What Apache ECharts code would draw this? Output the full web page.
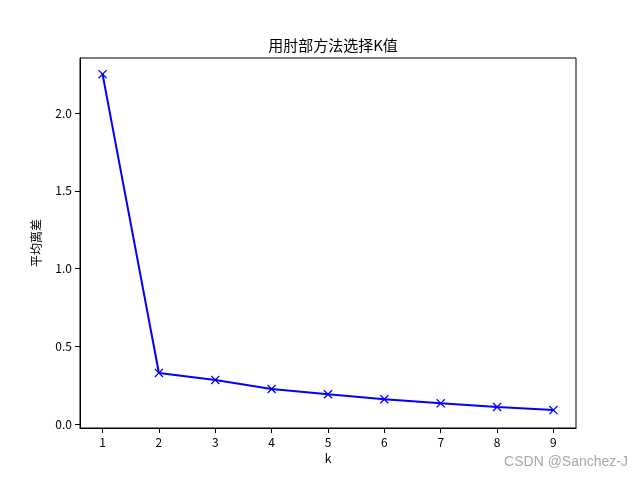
<!DOCTYPE html>
<html><head><meta charset="utf-8">
<script src="https://cdn.jsdelivr.net/npm/echarts@6/dist/echarts.min.js"></script>
<style>html,body{margin:0;padding:0;background:#fff}#c{width:640px;height:480px}</style>
</head><body><div id="c"></div>
<script>
const kValues = [1, 2, 3, 4, 5, 6, 7, 8, 9];
const meanDistortion = [2.25, 0.328, 0.283, 0.225, 0.191, 0.159, 0.133, 0.109, 0.089];
const xTicks = [1, 2, 3, 4, 5, 6, 7, 8, 9];
const yTicks = [0, 0.5, 1.0, 1.5, 2.0];
const yTickLabels = ['0.0', '0.5', '1.0', '1.5', '2.0'];

const font = '"Noto Sans CJK SC", "DejaVu Sans", sans-serif';
const chart = echarts.init(document.getElementById('c'));
const xMark = 'path://M0,1L1,0L5,4L9,0L10,1L6,5L10,9L9,10L5,6L1,10L0,9L4,5Z';
chart.setOption({
  animation: false,
  backgroundColor: '#fff',
  title: {
    text: '用肘部方法选择K值', left: 328, top: 33, textAlign: 'center',
    textStyle: { fontFamily: font, fontSize: 15, fontWeight: 'normal', color: '#000' }
  },
  grid: { left: 80, right: 64, top: 58, bottom: 52, show: true, borderColor: '#000', borderWidth: 1 },
  xAxis: {
    type: 'value', min: 0.6, max: 9.4,
    name: 'k', nameLocation: 'middle', nameGap: 24,
    nameTextStyle: { fontFamily: font, fontSize: 12, color: '#000' },
    axisLine: { show: true, onZero: false, lineStyle: { color: '#000', width: 1 } },
    axisTick: { show: true, length: 5, customValues: xTicks, lineStyle: { color: '#000' } },
    axisLabel: { customValues: xTicks, fontFamily: font, fontSize: 12, color: '#000', margin: 8 },
    splitLine: { show: false }
  },
  yAxis: {
    type: 'value', min: -0.026, max: 2.354,
    name: '平均离差', nameLocation: 'middle', nameGap: 38, nameRotate: 90,
    nameTextStyle: { fontFamily: font, fontSize: 12, color: '#000' },
    axisLine: { show: true, onZero: false, lineStyle: { color: '#000', width: 1 } },
    axisTick: { show: true, length: 5, customValues: yTicks, lineStyle: { color: '#000' } },
    axisLabel: {
      customValues: yTicks, fontFamily: font, fontSize: 12, color: '#000', margin: 8,
      formatter: v => { const i = yTicks.findIndex(t => Math.abs(t - v) < 1e-9); return i >= 0 ? yTickLabels[i] : ''; }
    },
    splitLine: { show: false }
  },
  series: [{
    type: 'line',
    data: kValues.map((k, i) => [k, meanDistortion[i]]),
    lineStyle: { color: '#0000ff', width: 2 },
    itemStyle: { color: '#0000ff' },
    symbol: xMark, symbolSize: 9, showAllSymbol: true
  }],
  graphic: [{
    type: 'text', right: 12, top: 455,
    style: { text: 'CSDN @Sanchez-J', fontFamily: '"Liberation Sans", Arial, sans-serif', fontSize: 14, fill: '#a8a8a8' }
  }]
});
</script></body></html>
